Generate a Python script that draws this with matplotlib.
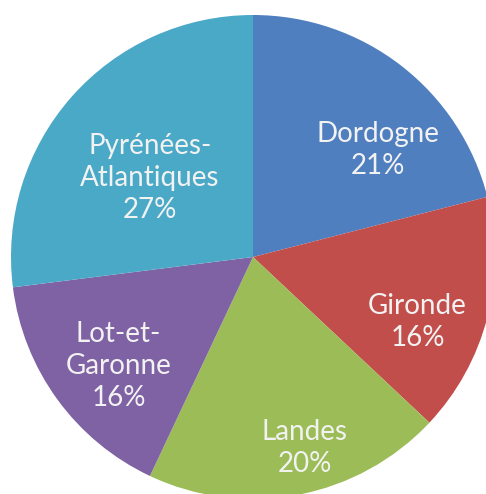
import numpy as np
import matplotlib
matplotlib.use("Agg")
import matplotlib.pyplot as plt

# Data
labels = ["Dordogne", "Gironde", "Landes", "Lot-et-\nGaronne", "Pyrénées-\nAtlantiques"]
shares = [21, 16, 20, 16, 27]
colors = ["#4F7FBF", "#C24E4C", "#9BBC57", "#7F62A4", "#4AA9C7"]

# label placement (radius in px from centre, angle in degrees), tuned by eye
label_pos = [(164, 40.6), (177, -21.5), (198, -74.8), (173, -141), (130, 142.5)]

fig = plt.figure(figsize=(4.86, 4.94), dpi=100)
ax = fig.add_axes([0, 0, 1, 1])

cx, cy, r = 253, 237, 242
ax.pie(shares, colors=colors, startangle=90, counterclock=False,
       center=(cx, cy), radius=r, frame=True,
       wedgeprops=dict(linewidth=0))
ax.set_xlim(0, 486)
ax.set_ylim(0, 494)
ax.set_aspect("equal")
ax.axis("off")

for lab, val, (rr, ang) in zip(labels, shares, label_pos):
    x = cx + rr * np.cos(np.radians(ang))
    y = cy + rr * np.sin(np.radians(ang))
    ax.text(x, y, f"{lab}\n{val}%", ha="center", va="center",
            color="#F2F2F2", fontsize=20, family="Lato",
            linespacing=1.3)

fig.savefig("out.png", dpi=100)
